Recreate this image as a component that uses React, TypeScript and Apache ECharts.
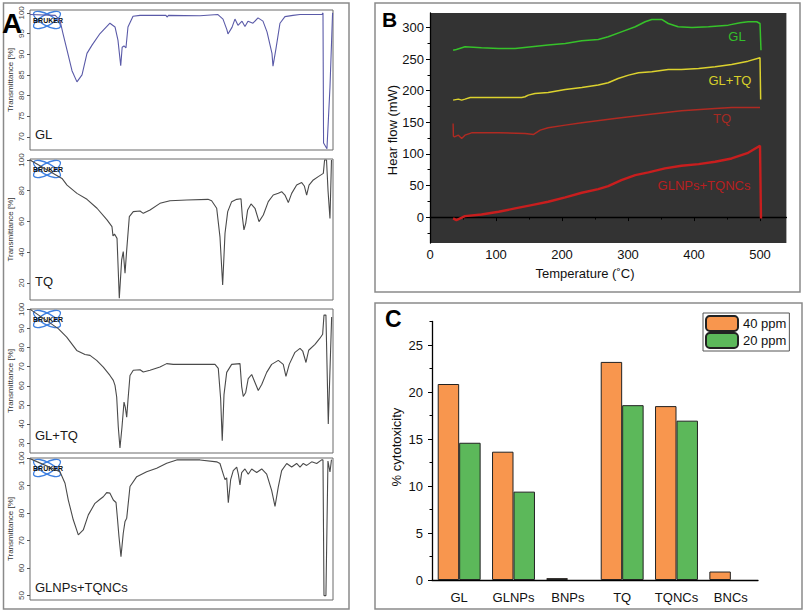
import React, { useEffect, useRef } from "react";
import * as echarts from "echarts";

// ---------- Panel A : FTIR spectra (wavenumber cm-1, transmittance %) ----------
const irGL: [number, number][] = [
  [4000, 99.6], [3700, 99.4], [3644, 98.2], [3608, 95], [3560, 91], [3501, 86], [3442, 83.3], [3382, 85],
  [3323, 90.2], [3263, 92.2], [3168, 95], [3050, 97.5], [2990, 96.6], [2955, 93.4], [2922, 87.2], [2905, 91.7],
  [2883, 92], [2860, 91.5], [2836, 96.6], [2776, 99.2], [2693, 99.4], [2385, 99.4], [2372, 99.0], [2355, 99.4],
  [1980, 99.3], [1767, 99.6], [1707, 98.5], [1660, 95.9], [1648, 94.9], [1600, 96.5], [1565, 98.5], [1529, 97],
  [1481, 98], [1446, 96.7], [1410, 98], [1351, 97.5], [1291, 98.8], [1232, 98], [1184, 95.4], [1125, 90.2],
  [1113, 87.1], [1078, 91.3], [1030, 97.5], [971, 99.1], [876, 99.4], [792, 99.6], [531, 99.6], [519, 100],
  [512, 68.5], [472, 67.1], [436, 82], [405, 100],
];
const irTQ: [number, number][] = [
  [4000, 100], [3620, 88], [3560, 83.7], [3442, 78.3], [3323, 74.4], [3204, 68.6], [3085, 61], [3026, 56.6],
  [3014, 50.6], [2996, 51.8], [2966, 49], [2939, 10], [2911, 35], [2892, 40.4], [2871, 26.3], [2851, 41.5],
  [2820, 63.1], [2773, 66.4], [2693, 66.8], [2654, 65.3], [2574, 67.5], [2456, 71.8], [2337, 73.5], [2138, 74],
  [1885, 74.4], [1842, 73.5], [1782, 68.6], [1743, 50], [1711, 18.7], [1683, 52.3], [1651, 66.4], [1604, 72.9],
  [1544, 74.4], [1493, 74.8], [1477, 63.1], [1458, 54.5], [1437, 58.8], [1414, 67.5], [1374, 71.4], [1327, 68.6],
  [1279, 59.9], [1228, 64.2], [1169, 72.9], [1110, 77.2], [1050, 78.3], [1010, 79.4], [971, 77.2], [931, 72.3],
  [891, 78.3], [832, 83.7], [772, 85.3], [741, 83.1], [713, 77.2], [685, 83.7], [634, 87], [575, 89.2],
  [515, 91.3], [500, 100], [477, 100], [459, 80], [436, 62], [418, 100],
];
const irGLTQ: [number, number][] = [
  [4000, 100], [3980, 99.5], [3664, 89.9], [3564, 85.5], [3445, 78.5], [3347, 76.4], [3287, 75.9], [3208, 73.3],
  [3129, 69.8], [3050, 65.4], [3010, 62.8], [2990, 60.2], [2970, 54.1], [2951, 38.4], [2931, 27.4], [2907, 38.4],
  [2883, 51.5], [2868, 48.8], [2851, 43.6], [2836, 52.4], [2812, 65.4], [2773, 68.1], [2693, 68.4], [2654, 67.2],
  [2574, 68.1], [2456, 69.8], [2376, 71.6], [2298, 71.2], [2138, 71.2], [1980, 71.2], [1802, 71.2], [1763, 69.1],
  [1735, 53.3], [1716, 31.2], [1695, 55.4], [1663, 67], [1604, 71.2], [1505, 71.6], [1485, 59.6], [1466, 54.4],
  [1437, 56.5], [1407, 63.8], [1366, 65.9], [1327, 61.7], [1288, 57.5], [1247, 60.7], [1188, 67], [1129, 71.2],
  [1050, 73.3], [991, 71.2], [959, 64.9], [920, 71.2], [852, 77.5], [792, 79.6], [760, 78.2], [721, 72.2],
  [689, 78.6], [614, 81.7], [555, 84.9], [523, 87], [507, 97], [484, 97], [456, 40], [416, 96],
];
const irGLNPs: [number, number][] = [
  [4000, 99.8], [3980, 99.6], [3644, 95.1], [3584, 90.9], [3545, 84.8], [3486, 77.6], [3426, 72.1], [3367, 73.9],
  [3307, 79.4], [3228, 83.6], [3168, 85.1], [3129, 86], [3089, 87.5], [3050, 87.3], [3010, 84.8], [2978, 83.9],
  [2963, 78.8], [2943, 71.5], [2919, 64.2], [2892, 72.7], [2871, 77], [2851, 78.2], [2812, 89.7], [2732, 93.3],
  [2614, 95.1], [2495, 96.4], [2376, 98.2], [2257, 99.4], [1980, 99.4], [1782, 98.7], [1743, 98.1], [1704, 94.2],
  [1683, 92.2], [1663, 92.9], [1644, 83.8], [1616, 92.2], [1585, 95.5], [1544, 96.8], [1525, 94.2], [1505, 90.3],
  [1485, 94.8], [1446, 96.1], [1407, 94.2], [1366, 96.1], [1307, 94.8], [1247, 96.1], [1188, 94.2], [1129, 88.3],
  [1089, 82.5], [1050, 89.6], [1010, 95.5], [950, 98.1], [891, 96.8], [832, 98.1], [792, 96.8], [753, 98.1],
  [713, 97.4], [653, 98.7], [594, 98.1], [535, 99.4], [519, 99.4], [507, 50], [484, 50], [460, 99], [436, 95], [418, 99.5],
];
const irTicksGL = [70, 75, 80, 85, 90, 95, 100];
const irTicksTQ = [20, 40, 60, 80, 100];
const irTicksGLTQ = [30, 40, 50, 60, 70, 80, 90, 100];
const irTicksGLNPs = [50, 60, 70, 80, 90, 100];
const irNames = ["GL", "TQ", "GL+TQ", "GLNPs+TQNCs"];

// ---------- Panel B : DSC (temperature °C, heat flow mW) ----------
const dscGL: [number, number][] = [
  [35, 264], [40, 265.3], [53, 269.5], [78, 268], [104, 266.9], [129, 266.9], [154, 269.5], [179, 272.2],
  [205, 274.8], [230, 279], [255, 281.1], [270, 285.3], [290, 293.2], [311, 301.2], [326, 309.1], [336, 312.8],
  [351, 312.8], [361, 306.4], [376, 301.2], [397, 300.1], [422, 301.2], [452, 303.8], [470, 307.5], [482, 309.1],
  [495, 309.1], [500, 306.4], [501.5, 264],
];
const dscGLTQ: [number, number][] = [
  [35, 185.1], [43, 186.7], [48, 185.1], [53, 186.7], [61, 189.3], [78, 189.3], [104, 189.3], [139, 189.3],
  [144, 190.4], [149, 193], [159, 195.7], [179, 197.3], [205, 202], [230, 205.2], [255, 208.9], [270, 212.6],
  [285, 219.4], [301, 224.7], [316, 228.4], [336, 230], [361, 233.6], [381, 233.6], [407, 235.2], [432, 237.9],
  [457, 241.6], [482, 246.8], [500, 252.1], [501, 186.2],
];
const dscTQ: [number, number][] = [
  [35, 148], [35.5, 128], [37, 127.1], [43, 129.7], [48, 124.5], [53, 129.7], [63, 133.4], [104, 133.4],
  [144, 132.4], [157, 130.8], [167, 137.7], [179, 141.4], [205, 145.6], [230, 149.3], [280, 156.1], [331, 162.4],
  [381, 168.2], [432, 171.9], [457, 173.5], [500, 173.5],
];
const dscGLNPs: [number, number][] = [
  [35, -2.1], [40, -4.7], [53, 1.6], [78, 4.2], [104, 8.4], [129, 13.7], [154, 19], [179, 24.3], [205, 31.1],
  [230, 38.5], [255, 44.3], [270, 49.1], [290, 58.5], [311, 66.5], [331, 70.7], [356, 77], [381, 81.2],
  [407, 83.9], [432, 87.6], [457, 92.8], [482, 101.8], [500, 112.9], [501.5, -2.1],
];
const dscXTicks = [0, 100, 200, 300, 400, 500];
const dscXMinor = [50, 150, 250, 350, 450];
const dscYTicks = [0, 50, 100, 150, 200, 250, 300];
const dscYMinor = [-25, 25, 75, 125, 175, 225, 275];

// ---------- Panel C : cytotoxicity ----------
const cytoCats = ["GL", "GLNPs", "BNPs", "TQ", "TQNCs", "BNCs"];
const cyto40 = [20.85, 13.65, 0.2, 23.2, 18.5, 0.9];
const cyto20 = [14.6, 9.4, 0, 18.6, 16.95, 0];
const cytoYTicks = [0, 5, 10, 15, 20, 25];
const cytoYMinor = [2.5, 7.5, 12.5, 17.5, 22.5, 27.5];

const FONT = "Liberation Sans, Arial, Helvetica, sans-serif";

function barData(values: number[]) {
  return values.map((v) => (v === 0 ? { value: v, itemStyle: { borderWidth: 0 } } : v));
}

function buildOption() {
  const aLayout = [
    { top: 10, h: 140, min: 66.8, max: 100.7, ticks: irTicksGL, data: irGL, color: "#5a5aa8" },
    { top: 159, h: 141, min: 8.9, max: 100.65, ticks: irTicksTQ, data: irTQ, color: "#4a4a4a" },
    { top: 309, h: 144, min: 24.8, max: 100.2, ticks: irTicksGLTQ, data: irGLTQ, color: "#4a4a4a" },
    { top: 458, h: 142, min: 48.4, max: 100.1, ticks: irTicksGLNPs, data: irGLNPs, color: "#4a4a4a" },
  ];
  const labelOffsets = [16, 18.5, 18, 12.5];

  const grids: any[] = [];
  const xAxes: any[] = [];
  const yAxes: any[] = [];
  const series: any[] = [];
  const graphics: any[] = [];

  aLayout.forEach((p, i) => {
    grids.push({
      left: 30, top: p.top, width: 303, height: p.h, show: true,
      borderColor: "#6a6a6a", borderWidth: 1, backgroundColor: "transparent",
    });
    xAxes.push({ type: "value", gridIndex: i, min: 400, max: 4000, inverse: true, show: false });
    yAxes.push({
      type: "value", gridIndex: i, min: p.min, max: p.max,
      axisLine: { show: false },
      axisTick: { show: true, length: 3, lineStyle: { color: "#555", width: 1 }, customValues: p.ticks },
      axisLabel: { rotate: 90, fontSize: 8, color: "#444", margin: 5, fontFamily: FONT, customValues: p.ticks },
      splitLine: { show: false },
    });
    series.push({
      type: "line", xAxisIndex: i, yAxisIndex: i, data: p.data, showSymbol: false, silent: true,
      lineStyle: { color: p.color, width: 1.1 },
    });
    graphics.push({
      type: "text", x: 10, y: p.top + p.h / 2, rotation: Math.PI / 2,
      style: { text: "Transmittance [%]", fontSize: 8, fill: "#333", align: "center", verticalAlign: "middle", fontFamily: FONT },
    });
    graphics.push({
      type: "text", x: 35, y: p.top + p.h - labelOffsets[i],
      style: { text: irNames[i], fontSize: 13, fill: "#1a1a1a", align: "left", verticalAlign: "middle", fontFamily: FONT },
    });
    graphics.push({
      type: "group", x: 47, y: p.top + 10, z: 10,
      children: [
        { type: "ellipse", x: 0, y: 0, rotation: 0.5, shape: { cx: 0, cy: 0, rx: 15, ry: 5.5 },
          style: { fill: "rgba(0,0,0,0)", stroke: "#3d7fe0", lineWidth: 1.3 } },
        { type: "ellipse", x: 0, y: 0, rotation: -0.5, shape: { cx: 0, cy: 0, rx: 15, ry: 5.5 },
          style: { fill: "rgba(0,0,0,0)", stroke: "#3d7fe0", lineWidth: 1.3 } },
        { type: "text", x: 1, y: 0,
          style: { text: "BRUKER", fontSize: 7, fontWeight: "bold", fill: "#111", align: "center", verticalAlign: "middle", fontFamily: FONT } },
      ],
    });
  });

  // ---- Panel B ----
  grids.push({ left: 430, top: 13, width: 356.4, height: 230, show: true, backgroundColor: "#333333", borderWidth: 0 });
  xAxes.push({
    type: "value", gridIndex: 4, min: 0, max: 540, position: "bottom",
    axisLine: { lineStyle: { color: "#000", width: 1.3 } },
    axisTick: { length: 4, lineStyle: { color: "#000" }, customValues: dscXTicks },
    axisLabel: { fontSize: 13, color: "#111", margin: 5, fontFamily: FONT, customValues: dscXTicks },
    splitLine: { show: false },
  });
  xAxes.push({
    type: "value", gridIndex: 4, min: 0, max: 540, position: "bottom",
    axisLine: { show: false },
    axisTick: { length: 2.5, lineStyle: { color: "#000" }, customValues: dscXMinor },
    axisLabel: { show: false }, splitLine: { show: false },
  });
  yAxes.push({
    type: "value", gridIndex: 4, min: -41, max: 323, position: "left",
    axisLine: { show: true, lineStyle: { color: "#000", width: 1.3 } },
    axisTick: { show: true, length: 4, lineStyle: { color: "#000" }, customValues: dscYTicks },
    axisLabel: { fontSize: 13, color: "#111", margin: 6, fontFamily: FONT, customValues: dscYTicks },
    splitLine: { show: false },
  });
  yAxes.push({
    type: "value", gridIndex: 4, min: -41, max: 323, position: "left",
    axisLine: { show: false },
    axisTick: { show: true, length: 2.5, lineStyle: { color: "#000" }, customValues: dscYMinor },
    axisLabel: { show: false }, splitLine: { show: false },
  });
  const dscSeries = [
    { data: dscGL, color: "#36c22a", w: 1.5 },
    { data: dscGLTQ, color: "#dcd22e", w: 1.5 },
    { data: dscTQ, color: "#b02a22", w: 1.4 },
    { data: dscGLNPs, color: "#c81e1e", w: 2.4 },
  ];
  dscSeries.forEach((d) => {
    series.push({
      type: "line", xAxisIndex: 4, yAxisIndex: 4, data: d.data, showSymbol: false, silent: true,
      lineStyle: { color: d.color, width: d.w },
    });
  });
  const dscLabels = [
    { t: "GL", x: 737, y: 36, c: "#33c02a" },
    { t: "GL+TQ", x: 730, y: 80, c: "#d8cf2a" },
    { t: "TQ", x: 722, y: 118, c: "#a62a22" },
    { t: "GLNPs+TQNCs", x: 704, y: 185, c: "#b81f1f" },
  ];
  dscLabels.forEach((l) => {
    graphics.push({
      type: "text", x: l.x, y: l.y,
      style: { text: l.t, fontSize: 13, fill: l.c, align: "center", verticalAlign: "middle", fontFamily: FONT },
    });
  });
  graphics.push({
    type: "text", x: 585, y: 273,
    style: { text: "Temperature (\u02DAC)", fontSize: 13, fill: "#111", align: "center", verticalAlign: "middle", fontFamily: FONT },
  });
  graphics.push({
    type: "text", x: 392, y: 130, rotation: Math.PI / 2,
    style: { text: "Hear flow (mW)", fontSize: 13, fill: "#111", align: "center", verticalAlign: "middle", fontFamily: FONT },
  });

  // ---- Panel C ----
  grids.push({ left: 432, top: 321.5, width: 326, height: 258.5 });
  xAxes.push({
    type: "category", gridIndex: 5, data: cytoCats,
    axisLine: { lineStyle: { color: "#000", width: 1.3 } },
    axisTick: { alignWithLabel: true, length: 4, lineStyle: { color: "#000" } },
    axisLabel: { fontSize: 13, color: "#111", margin: 11, fontFamily: FONT, interval: 0 },
  });
  yAxes.push({
    type: "value", gridIndex: 5, min: 0, max: 27.5, position: "left",
    axisLine: { show: true, lineStyle: { color: "#000", width: 1.3 } },
    axisTick: { show: true, length: 4, lineStyle: { color: "#000" }, customValues: cytoYTicks },
    axisLabel: { fontSize: 13, color: "#111", margin: 9, fontFamily: FONT, customValues: cytoYTicks },
    splitLine: { show: false },
  });
  yAxes.push({
    type: "value", gridIndex: 5, min: 0, max: 27.5, position: "left",
    axisLine: { show: false },
    axisTick: { show: true, length: 2.5, lineStyle: { color: "#000" }, customValues: cytoYMinor },
    axisLabel: { show: false }, splitLine: { show: false },
  });
  series.push({
    type: "bar", name: "40 ppm", xAxisIndex: 6, yAxisIndex: 6, data: barData(cyto40), silent: true,
    barGap: "0%", barCategoryGap: "21%",
    itemStyle: { color: "#f8964e", borderColor: "#222", borderWidth: 1 },
  });
  series.push({
    type: "bar", name: "20 ppm", xAxisIndex: 6, yAxisIndex: 6, data: barData(cyto20), silent: true,
    barGap: "0%", barCategoryGap: "21%",
    itemStyle: { color: "#5cb85a", borderColor: "#222", borderWidth: 1 },
  });
  graphics.push({
    type: "text", x: 396, y: 447, rotation: Math.PI / 2,
    style: { text: "% cytotoxicity", fontSize: 13, fill: "#111", align: "center", verticalAlign: "middle", fontFamily: FONT },
  });

  // ---- frames & panel letters ----
  const frame = (x: number, y: number, w: number, h: number) => ({
    type: "rect", shape: { x, y, width: w, height: h }, z: 20, silent: true,
    style: { fill: "rgba(0,0,0,0)", stroke: "#8a8a8a", lineWidth: 1.5 },
  });
  graphics.push(frame(3.5, 3, 345.5, 606));
  graphics.push(frame(375, 3, 425, 289));
  graphics.push(frame(375, 303, 427, 306));
  graphics.push({
    type: "text", x: 2, y: 23, z: 30,
    style: { text: "A", fontSize: 28, fontWeight: "bold", fill: "#000", align: "left", verticalAlign: "middle", fontFamily: FONT },
  });
  graphics.push({
    type: "text", x: 382, y: 19.5, z: 30,
    style: { text: "B", fontSize: 21, fontWeight: "bold", fill: "#000", align: "left", verticalAlign: "middle", fontFamily: FONT },
  });
  graphics.push({
    type: "text", x: 385, y: 318.5, z: 30,
    style: { text: "C", fontSize: 23, fontWeight: "bold", fill: "#000", align: "left", verticalAlign: "middle", fontFamily: FONT },
  });

  return {
    animation: false,
    backgroundColor: "#ffffff",
    textStyle: { fontFamily: FONT },
    grid: grids,
    xAxis: xAxes,
    yAxis: yAxes,
    legend: {
      data: ["40 ppm", "20 ppm"], orient: "vertical", left: 703, top: 313,
      itemWidth: 32, itemHeight: 15, itemGap: 0, padding: [2, 3, 2, 2],
      borderColor: "#555", borderWidth: 1, backgroundColor: "#fff",
      textStyle: { fontSize: 13, color: "#111", fontFamily: FONT },
      selectedMode: false,
    },
    series,
    graphic: graphics,
  };
}

export default function App() {
  const ref = useRef<HTMLDivElement>(null);
  useEffect(() => {
    if (!ref.current) return;
    const chart = echarts.init(ref.current, null, { renderer: "svg" });
    chart.setOption(buildOption() as any);
    return () => chart.dispose();
  }, []);
  return (
    <div
      ref={ref}
      style={{ position: "fixed", left: 0, top: 0, width: 811, height: 611, background: "#fff" }}
    />
  );
}
